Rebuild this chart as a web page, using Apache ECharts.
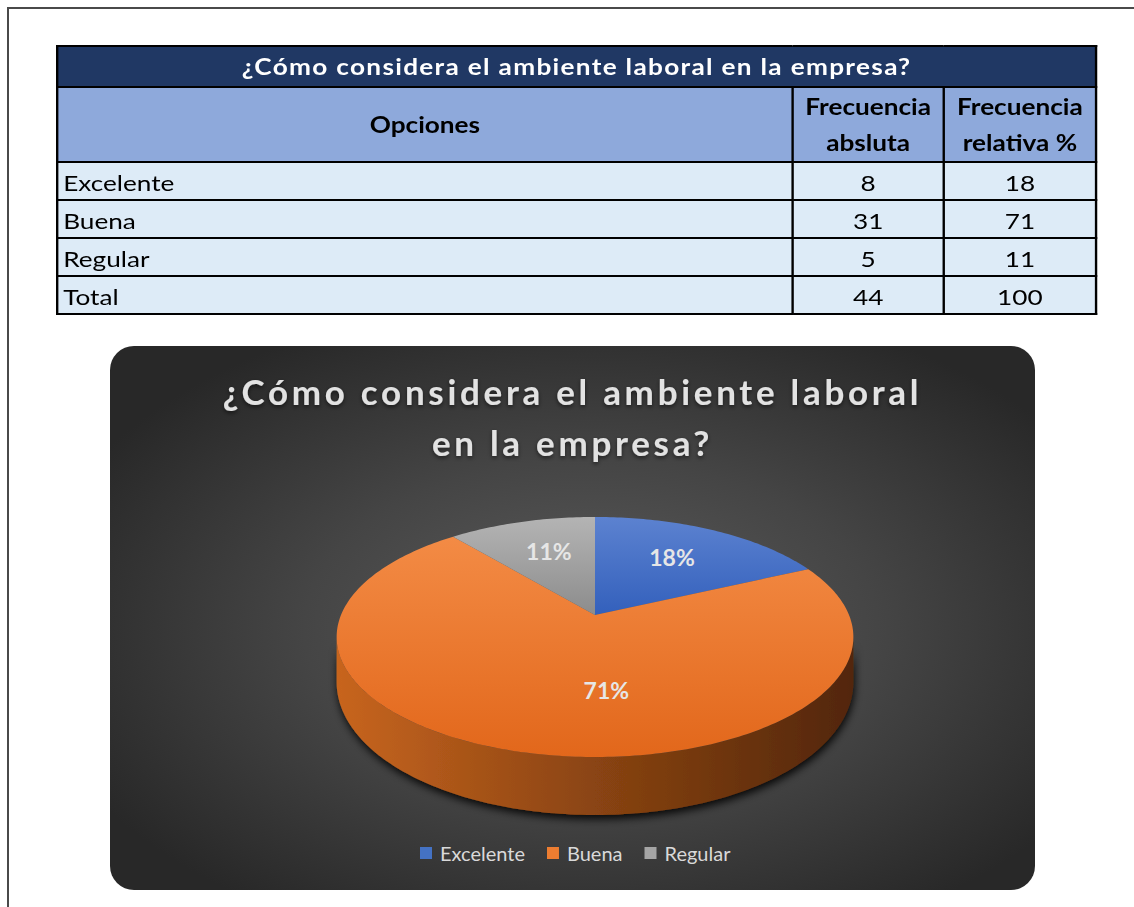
<!DOCTYPE html>
<html lang="es">
<head>
<meta charset="utf-8">
<title>Ambiente laboral</title>
<script src="https://cdn.jsdelivr.net/npm/echarts@6/dist/echarts.min.js"></script>
<style>
  html, body { margin: 0; padding: 0; background: #fff; }
  body { width: 1134px; height: 907px; overflow: hidden; position: relative; }
  #frame { position: absolute; left: 7px; top: 7px; width: 1200px; height: 1000px;
           border-left: 2px solid #4a4a4a; border-top: 2px solid #4a4a4a; box-sizing: border-box; }
  #tableWrap { position: absolute; left: 56px; top: 45px; transform: scaleX(1.19); transform-origin: 0 0; }
  #tbl { border-collapse: collapse; width: 873px; font-family: Lato, sans-serif; font-size: 22px;
         color: #000; table-layout: fixed; }
  #tbl td { border: 2px solid #000; padding: 0; line-height: 1; }
  #tbl tr.title td { background: #203864; color: #fff; font-weight: bold; text-align: center; height: 39px;
                     letter-spacing: 1.1px; }
  #tbl tr.head td { background: #8EA9DB; font-weight: bold; text-align: center; height: 73px; line-height: 36px; }
  #tbl tr.row td { background: #DDEBF7; height: 32px; text-align: center; padding-top: 4px; }
  #tbl tr.row td:first-child { text-align: left; padding-left: 4px; }
  #chart { position: absolute; left: 110px; top: 346px; width: 925px; height: 544px;
           border-radius: 24px; overflow: hidden; }
</style>
</head>
<body>
<div id="frame"></div>
<div id="tableWrap"><table id="tbl"></table></div>
<div id="chart"></div>
<script>
// Survey data
const surveyTitle = '¿Cómo considera el ambiente laboral en la empresa?';
const chartTitle = '¿Cómo considera el ambiente laboral\nen la empresa?';
const columnHeaders = ['Opciones', 'Frecuencia\nabsluta', 'Frecuencia\nrelativa %'];
const categories = ['Excelente', 'Buena', 'Regular'];
const absoluteFreq = [8, 31, 5];
const relativeFreq = [18, 71, 11];
const totalLabel = 'Total';

const sum = arr => arr.reduce((a, b) => a + b, 0);

// ---- Frequency table ----
(function buildTable() {
  const tbl = document.getElementById('tbl');
  const colW = [618, 127, 128];
  const cg = document.createElement('colgroup');
  colW.forEach(w => { const c = document.createElement('col'); c.style.width = w + 'px'; cg.appendChild(c); });
  tbl.appendChild(cg);

  const addRow = (cls, cells) => {
    const tr = document.createElement('tr');
    tr.className = cls;
    cells.forEach(c => {
      const td = document.createElement('td');
      if (c.span) td.colSpan = c.span;
      c.text.split('\n').forEach((line, k) => {
        if (k) td.appendChild(document.createElement('br'));
        td.appendChild(document.createTextNode(line));
      });
      tr.appendChild(td);
    });
    tbl.appendChild(tr);
  };
  addRow('title', [{ text: surveyTitle, span: 3 }]);
  addRow('head', columnHeaders.map(t => ({ text: t })));
  categories.forEach((c, i) => addRow('row', [
    { text: c }, { text: String(absoluteFreq[i]) }, { text: String(relativeFreq[i]) }
  ]));
  addRow('row', [{ text: totalLabel }, { text: String(sum(absoluteFreq)) }, { text: String(sum(relativeFreq)) }]);
})();

// ---- 3D pie (perspective-projected top face plus visible side wall) ----
const sliceColors = ['#4472C4', '#ED7D31', '#A5A5A5'];
const topShades = [['#5C82D0', '#3360BC'], ['#F38B45', '#E2671B'], ['#B4B4B4', '#8C8C8C']];
const sideShades = [['#3A63B0', '#23417A', '#172B52'], ['#C8651F', '#8A4412', '#52260A'], ['#8C8C8C', '#606060', '#3C3C3C']];
const labelNudge = [[0, -3], [50, -4], [2, -3]];
const TITLE_SIZE = 35, TITLE_SPACING = '3.7px';

const PIE = { cx: 485, cy: 269, rx: 254, ry: 116, persp: 0.183, depth0: 42, depth1: 16 };
const TAU = Math.PI * 2;

function project(theta, r) {
  const v = Math.sin(theta) * r;
  const u = -Math.cos(theta) * r;          // -1 = far rim, +1 = near rim
  const s = 1 / (1 - PIE.persp * u);
  return [PIE.cx + PIE.rx * v * s, PIE.cy + PIE.ry * u * s];
}
function arcPoints(t0, t1, r) {
  const n = Math.max(2, Math.ceil((t1 - t0) / (Math.PI / 180)));
  const pts = [];
  for (let k = 0; k <= n; k++) pts.push(project(t0 + (t1 - t0) * k / n, r));
  return pts;
}

function sliceRenderer(idx) {
  return function (params, api) {
    const total = sum(relativeFreq);
    const value = api.value(0);
    const start = sum(relativeFreq.slice(0, idx));
    const t0 = start / total * TAU;
    const t1 = (start + value) / total * TAU;
    const children = [];

    // side wall: only the part facing the viewer (between the silhouette angles)
    const sA = Math.acos(-PIE.persp), sB = TAU - sA;
    const a = Math.max(t0, sA), b = Math.min(t1, sB);
    if (b > a) {
      const topEdge = arcPoints(a, b, 1);
      const bottomEdge = topEdge.map((p, k) => {
        const th = a + (b - a) * k / (topEdge.length - 1);
        const u = -Math.cos(th);
        return [p[0], p[1] + PIE.depth0 + PIE.depth1 * u];
      }).reverse();
      const sc = sideShades[idx];
      children.push({
        type: 'polygon', z2: 1,
        shape: { points: topEdge.concat(bottomEdge) },
        style: {
          fill: { type: 'linear', global: true, x: PIE.cx - PIE.rx - 6, y: 0, x2: PIE.cx + PIE.rx + 6, y2: 0,
                  colorStops: [{ offset: 0, color: sc[0] }, { offset: 0.5, color: sc[1] }, { offset: 1, color: sc[2] }] },
          shadowBlur: 9, shadowColor: 'rgba(0,0,0,0.9)', shadowOffsetY: 4, shadowOffsetX: 1
        }
      });
    }

    // top face
    const tc = topShades[idx];
    children.push({
      type: 'polygon', z2: 10,
      shape: { points: [project(0, 0)].concat(arcPoints(t0, t1, 1)) },
      style: {
        fill: { type: 'linear', x: 0, y: 0, x2: 0, y2: 1,
                colorStops: [{ offset: 0, color: tc[0] }, { offset: 1, color: tc[1] }] }
      }
    });

    // percentage label
    const mid = (t0 + t1) / 2;
    const lp = project(mid, 0.62);
    children.push({
      type: 'text', z2: 20,
      x: lp[0] + labelNudge[idx][0], y: lp[1] + labelNudge[idx][1],
      style: {
        text: Math.round(value / total * 100) + '%',
        fill: '#E6E6E6', font: 'bold 23px Lato', align: 'center', verticalAlign: 'middle'
      }
    });
    return { type: 'group', children };
  };
}

const chart = echarts.init(document.getElementById('chart'), null, { renderer: 'svg' });

// expanded character spacing for the chart title lines
const titleLines = chartTitle.split('\n');
function spaceTitle() {
  document.querySelectorAll('#chart svg text').forEach(t => {
    if (titleLines.includes(t.textContent.trim())) t.style.letterSpacing = TITLE_SPACING;
  });
}
chart.on('finished', spaceTitle);

chart.setOption({
  animation: false,
  backgroundColor: {
    type: 'radial', x: 0.52, y: 0.52, r: 0.62,
    colorStops: [{ offset: 0, color: '#5C5C5C' }, { offset: 0.5, color: '#454545' }, { offset: 1, color: '#282828' }]
  },
  title: {
    text: chartTitle, left: 'center', top: 14,
    textStyle: {
      fontFamily: 'Lato', fontSize: TITLE_SIZE, fontWeight: 'bold', color: '#E2E2E2', lineHeight: 51,
      textShadowColor: 'rgba(0,0,0,0.55)', textShadowBlur: 4, textShadowOffsetY: 2
    }
  },
  legend: {
    data: categories, left: 310, top: 497, padding: 0, icon: 'rect', itemWidth: 12, itemHeight: 12, itemGap: 22,
    textStyle: { color: '#D9D9D9', fontFamily: 'Lato', fontSize: 20, padding: [0, 0, 0, 3] }
  },
  series: categories.map((name, i) => ({
    type: 'custom', name, coordinateSystem: 'none',
    itemStyle: { color: sliceColors[i] },
    data: [[relativeFreq[i]]],
    renderItem: sliceRenderer(i)
  }))
});
spaceTitle();
</script>
</body>
</html>
